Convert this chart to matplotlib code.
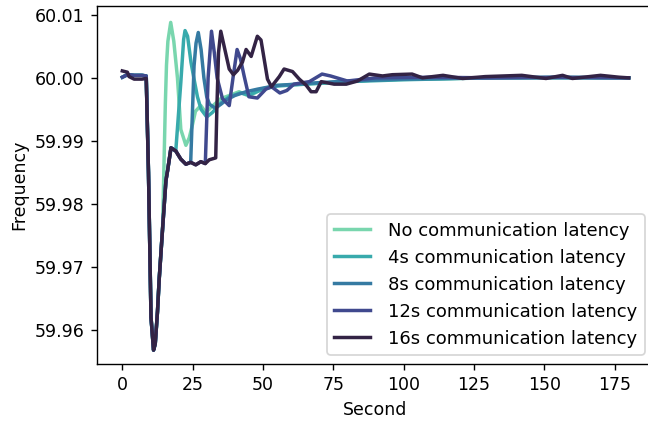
import matplotlib
matplotlib.use("Agg")
import matplotlib.pyplot as plt
from matplotlib.ticker import FormatStrFormatter
import numpy as np
import seaborn as sns

labels = ["No communication latency", "4s communication latency",
          "8s communication latency", "12s communication latency",
          "16s communication latency"]

# shared part: steady state, load step and the first dip
t_pre = [0, 1.8, 2.4, 4.2, 7.0, 8.5, 9.3, 10.2, 11.1, 11.7, 12.5, 13.1, 14.3]
f_pre = [60.0001, 60.0005, 60.0005, 60.0004, 60.0004, 60.0003, 59.985, 59.962,
         59.9568, 59.9578, 59.9629, 59.968, 59.976]
t_pre_dark = [0, 1.8, 2.4, 4.2, 7.0, 8.5, 9.3, 10.2, 11.1, 11.7, 12.5, 13.1, 14.3]
f_pre_dark = [60.0011, 60.0009, 60.0002, 59.9998, 59.9998, 59.9999, 59.985, 59.962,
              59.9568, 59.9578, 59.9629, 59.968, 59.976]

# plateau while waiting for the delayed signal
t_hold = [15.5, 16.1, 17.3, 19.0, 20.8, 22.6, 24.3, 26.1, 27.9, 29.5, 30.9, 33.2]
f_hold = [59.9837, 59.9853, 59.9889, 59.9884, 59.9871, 59.9863, 59.9866, 59.9862,
          59.9867, 59.9864, 59.987, 59.9873]

# tails after the controller acts
t_l0 = [14.9, 15.3, 15.7, 16.2, 17.2, 18.3, 19.6, 20.8, 22.6, 23.8, 25.0, 26.0,
        27.9, 29.7, 32.0, 35.0, 38.0, 41.5, 45.0, 50.0, 55.0, 68.0, 80.0, 91.0,
        106.0, 130.0, 155.0, 180.0]
f_l0 = [59.988, 59.996, 60.002, 60.0058, 60.0088, 60.0058, 60.0000, 59.9918,
        59.9893, 59.9905, 59.9927, 59.9947, 59.9956, 59.9945, 59.9955, 59.9967,
        59.9972, 59.9978, 59.9971, 59.9983, 59.9988, 59.9991, 59.9994, 59.9997,
        59.9998, 60.0, 60.0, 60.0]

t_l4 = [20.8, 21.8, 22.3, 23.2, 24.4, 25.5, 26.7, 28.0, 30.0, 32.0, 35.0, 38.0,
        42.0, 45.0, 50.0, 55.0, 65.0, 80.0, 100.0, 130.0, 155.0, 180.0]
f_l4 = [59.9993, 60.0061, 60.0075, 60.0066, 60.0025, 59.9998, 59.997, 59.995,
        59.9938, 59.9945, 59.996, 59.997, 59.9976, 59.9973, 59.9982, 59.9987,
        59.999, 59.9994, 59.9997, 60.0, 60.0001, 60.0]

t_l8 = [25.5, 26.2, 27.0, 28.0, 29.0, 30.0, 31.0, 33.0, 35.0, 37.0, 40.0, 44.0,
        48.0, 55.0, 65.0, 80.0, 100.0, 130.0, 155.0, 180.0]
f_l8 = [60.0019, 60.0055, 60.0072, 60.0045, 60.0, 59.997, 59.9958, 59.9952,
        59.9958, 59.9965, 59.9972, 59.9978, 59.9982, 59.9988, 59.9991, 59.9995,
        59.9998, 60.0, 60.0, 60.0]

t_l12 = [30.5, 31.7, 32.7, 33.7, 35.6, 38.0, 39.5, 40.8, 42.0, 43.3, 45.0, 48.0,
         51.0, 53.0, 56.0, 58.5, 61.0, 66.5, 71.0, 74.0, 80.0, 90.0, 110.0,
         130.0, 155.0, 180.0]
f_l12 = [60.0, 60.0074, 60.004, 60.0, 59.9967, 59.9956, 60.0005, 60.0045, 60.003,
         60.0003, 59.997, 59.9968, 59.9982, 59.9986, 59.9976, 59.998, 59.999,
         59.9994, 60.0006, 60.0003, 59.9995, 60.0, 60.0001, 60.0, 60.0001, 60.0]

t_l16 = [33.6, 34.2, 35.0, 36.2, 38.0, 39.5, 41.0, 42.7, 44.0, 45.8, 48.0, 49.3,
         51.6, 53.0, 55.8, 57.5, 60.5, 62.9, 65.4, 67.1, 68.9, 70.7, 75.3, 79.6,
         83.6, 87.8, 92.5, 96.0, 103.0, 106.7, 114.0, 121.0, 129.0, 142.0, 150.6,
         156.5, 160.0, 170.0, 176.6, 180.0]
f_l16 = [59.995, 60.004, 60.0074, 60.005, 60.0014, 60.0005, 60.0012, 60.0025,
         60.0045, 60.0034, 60.0066, 60.006, 59.9998, 59.9986, 60.0002, 60.0014,
         60.001, 59.9998, 59.9988, 59.9978, 59.9978, 59.9994, 59.999, 59.999,
         59.9995, 60.0006, 60.0003, 60.0005, 60.0006, 60.0, 60.0004, 59.9999,
         60.0002, 60.0004, 59.9999, 60.0004, 59.9999, 60.0004, 60.0001, 60.0]

rise = [None, 19.6, 24.4, 29.6, 33.4]
tails = [(t_l0, f_l0), (t_l4, f_l4), (t_l8, f_l8), (t_l12, f_l12), (t_l16, f_l16)]

colors = sns.color_palette("mako_r", 5)
plt.rcParams["font.size"] = 10

fig = plt.figure(figsize=(648 / 125, 422 / 125), dpi=125)
ax = fig.add_axes([97 / 648, 58 / 422, 557 / 648, 358 / 422])

for i in range(5):
    if i == 4:
        t = list(t_pre_dark)
        f = list(f_pre_dark)
    else:
        t = list(t_pre)
        f = list(f_pre)
    if rise[i] is not None:
        for a, b in zip(t_hold, f_hold):
            if a <= rise[i]:
                t.append(a)
                f.append(b)
    t += tails[i][0]
    f += tails[i][1]
    ax.plot(t, f, color=colors[i], lw=2, label=labels[i])

ax.set_ylim(59.9546, 60.0114)
ax.yaxis.set_major_formatter(FormatStrFormatter("%.2f"))
ax.set_xlabel("Second")
ax.set_ylabel("Frequency")
ax.legend(loc="lower right", fontsize=10.4, handletextpad=1.0)

fig.savefig("out.png", dpi=125)
